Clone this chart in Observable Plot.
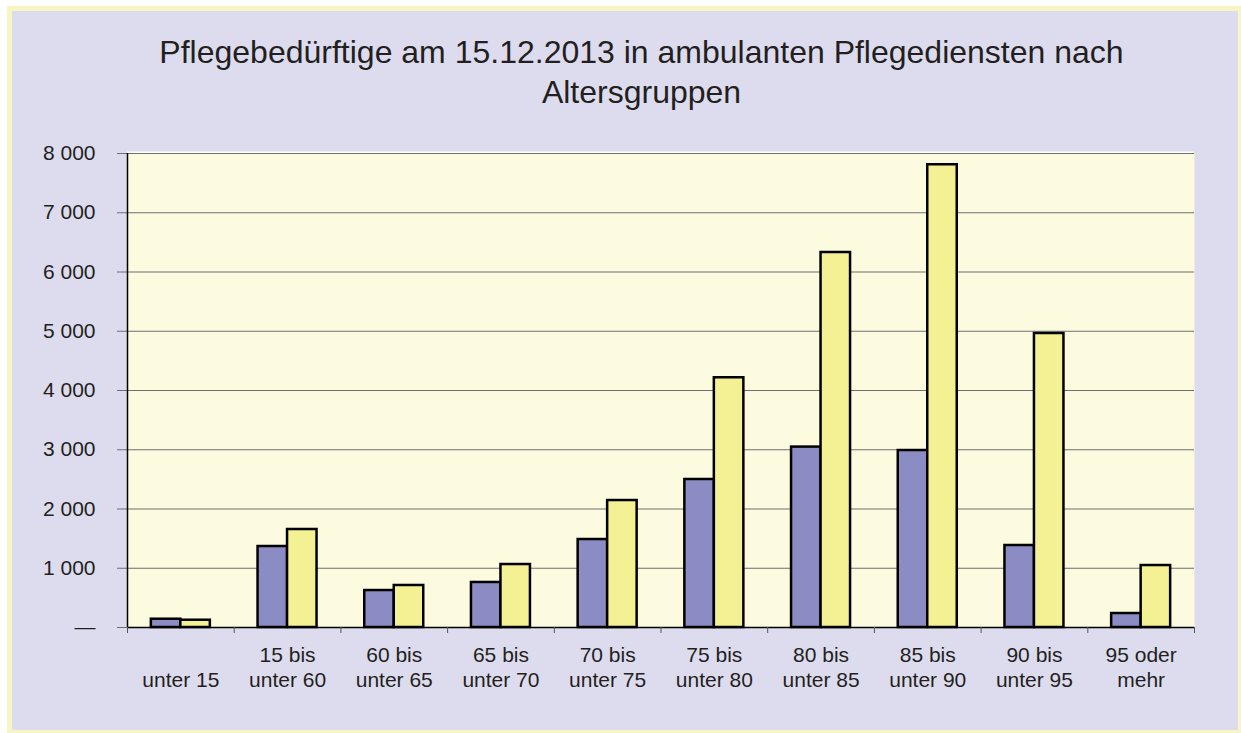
<!DOCTYPE html>
<html>
<head>
<meta charset="utf-8">
<script src="https://cdn.jsdelivr.net/npm/d3@7"></script>
<script src="https://cdn.jsdelivr.net/npm/@observablehq/plot@0.6"></script>
<style>
  html, body { margin: 0; padding: 0; background: #ffffff; }
  body { width: 1241px; height: 733px; overflow: hidden; position: relative; font-family: "Liberation Sans", Arial, sans-serif; }
  #bg { position: absolute; left: 7px; top: 6px; width: 1226px; height: 719px; border: 5px solid #f8f5c4; background: #dddcee; }
  #chart { position: absolute; left: 0; top: 0; width: 1241px; }
  #title { height: 120px; box-sizing: border-box; padding-top: 32px; text-align: center; font-size: 32px; line-height: 40px; color: #231f20; padding-left: 42px; }
</style>
</head>
<body>
<div id="bg"></div>
<div id="chart">
  <div id="title">Pflegebedürftige am 15.12.2013 in ambulanten Pflegediensten nach<br>Altersgruppen</div>
</div>
<script>
const categories = ["unter 15", "15 bis unter 60", "60 bis unter 65", "65 bis unter 70", "70 bis unter 75",
  "75 bis unter 80", "80 bis unter 85", "85 bis unter 90", "90 bis unter 95", "95 oder mehr"];
const labelLine1 = ["", "15 bis", "60 bis", "65 bis", "70 bis", "75 bis", "80 bis", "85 bis", "90 bis", "95 oder"];
const labelLine2 = ["unter 15", "unter 60", "unter 65", "unter 70", "unter 75", "unter 80", "unter 85", "unter 90", "unter 95", "mehr"];
const seriesBlue = [140, 1367, 624, 760, 1485, 2498, 3045, 2987, 1384, 236];
const seriesYellow = [123, 1654, 709, 1063, 2143, 4215, 6329, 7810, 4962, 1046];
const yTicks = [0, 1000, 2000, 3000, 4000, 5000, 6000, 7000, 8000];

const blueData = categories.map((c, i) => ({cat: c, v: seriesBlue[i]}));
const yellowData = categories.map((c, i) => ({cat: c, v: seriesYellow[i]}));
const labelData = categories.map((c, i) => ({cat: c, l1: labelLine1[i], l2: labelLine2[i]}));

const fmt = d3.formatLocale({thousands: " ", grouping: [3], decimal: ",", currency: ["", ""]}).format(",");
const W = 1241, mL = 127, mR = 47;
const half = (W - mL - mR) / categories.length / 2;
const barW = 29.5;

const plot = Plot.plot({
  width: W,
  height: 613,
  marginTop: 33,
  marginBottom: 106,
  marginLeft: mL,
  marginRight: mR,
  style: {background: "transparent", color: "#231f20", fontFamily: "'Liberation Sans', Arial, sans-serif"},
  x: {type: "band", domain: categories, padding: 0, round: false, axis: null, label: null},
  y: {domain: [0, 8000], axis: null, label: null},
  marks: [
    Plot.frame({fill: "#fcfadf", stroke: null}),
    Plot.ruleY([8000], {stroke: "#ffffff", strokeWidth: 2, dy: -1}),
    Plot.ruleY(yTicks.filter(d => d > 0), {stroke: "#6f6f6f", strokeWidth: 1}),
    Plot.axisY({ticks: yTicks, tickFormat: d => d === 0 ? "—" : fmt(d), tickSize: 10, tickPadding: 22,
      fontSize: 21, stroke: "#6f6f6f", fill: "#231f20", label: null}),
    Plot.barY(blueData, {x: "cat", y: "v", fill: "#8b8cc4", stroke: "#000", strokeWidth: 2.5,
      insetLeft: half - barW, insetRight: half}),
    Plot.barY(yellowData, {x: "cat", y: "v", fill: "#f4f195", stroke: "#000", strokeWidth: 2.5,
      insetLeft: half, insetRight: half - barW}),
    Plot.ruleY([0], {stroke: "#000", strokeWidth: 1.5}),
    Plot.ruleX([categories[0]], {y1: 0, y2: 8000, dx: -half, stroke: "#000", strokeWidth: 1.5}),
    Plot.axisX({ticks: categories, tickSize: 6, tickFormat: () => "", dx: -half, stroke: "#555", label: null}),
    Plot.axisX({ticks: [categories[categories.length - 1]], tickSize: 6, tickFormat: () => "", dx: half, stroke: "#555", label: null}),
    Plot.text(labelData, {x: "cat", text: "l1", frameAnchor: "bottom", dy: 28, lineAnchor: "middle", fontSize: 21, fill: "#231f20"}),
    Plot.text(labelData, {x: "cat", text: "l2", frameAnchor: "bottom", dy: 53, lineAnchor: "middle", fontSize: 21, fill: "#231f20"})
  ]
});
document.getElementById("chart").appendChild(plot);
</script>
</body>
</html>
